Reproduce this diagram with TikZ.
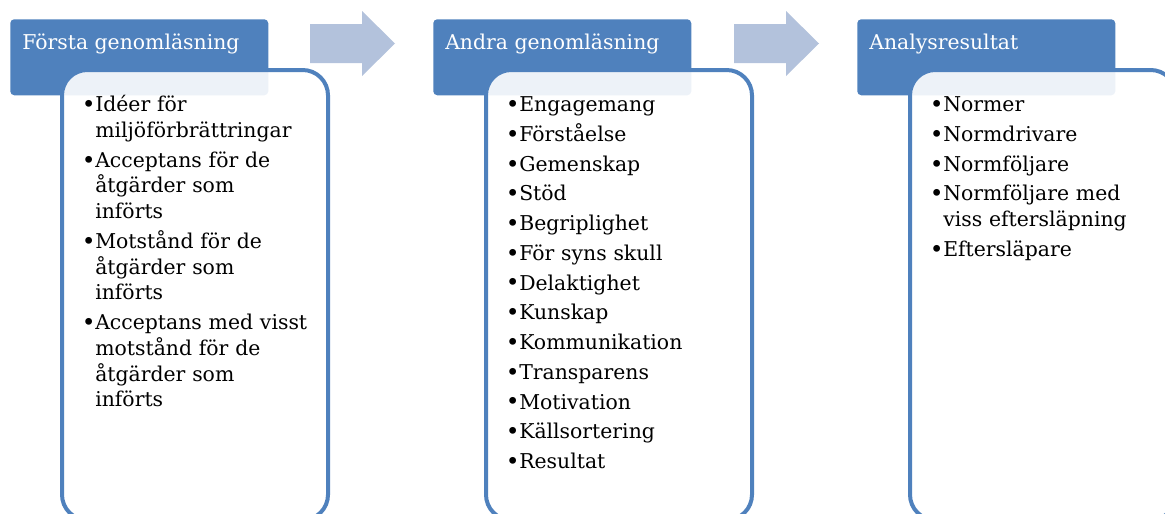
\documentclass[tikz,border=0pt]{standalone}
\usepackage{fontspec}
\setmainfont{DejaVu Serif}
\usepackage{tikz}
\usetikzlibrary{positioning}
\definecolor{headblue}{HTML}{4F81BD}
\definecolor{arrowblue}{HTML}{B3C2DC}
\newcommand{\bigdot}{\raisebox{-0.6pt}{\fontsize{17.5}{19}\selectfont\textbullet}}
\newcommand{\bitem}[1]{\par\hangindent=8.25pt\hangafter=1\noindent\makebox[8.25pt][l]{\hspace{-1.8pt}\bigdot}#1\par\vspace{3pt}}

\begin{document}
\begin{tikzpicture}[
  x=0.75pt, y=-0.75pt,
  head/.style={fill=headblue, rounded corners=3pt, anchor=north west,
    minimum width=193.5pt, minimum height=57pt, inner sep=0pt},
  panel/.style={draw=headblue, line width=3pt, fill=white, fill opacity=0.9,
    rounded corners=19pt, anchor=north west, minimum width=199.5pt,
    minimum height=337.5pt, inner sep=0pt},
  blockarrow/.style={fill=arrowblue},
  headtext/.style={anchor=base west, inner sep=0pt, text=white,
    font=\fontsize{15.3}{19.3}\selectfont},
  itemtext/.style={anchor=base west, inner sep=0pt, text width=175pt,
    align=left, font=\fontsize{15.3}{19.3}\selectfont}
]
\useasboundingbox (0,0) rectangle (1165,514);
\clip (0,0) rectangle (1165,514);

% block arrows between the stages
\fill[blockarrow] (310,24) -- (362,24) -- (362,11) -- (395,43.5)
  -- (362,76) -- (362,63) -- (310,63) -- cycle;
\fill[blockarrow] (734,24) -- (786,24) -- (786,11) -- (819,43.5)
  -- (786,76) -- (786,63) -- (734,63) -- cycle;

% stage 1
\node[head] (h1) at (10,19) {};
\node[panel] (p1) at (60,68) {};
\node[headtext] (t1) at (22,50) {Första genomläsning};
\node[itemtext] (l1) at (84,86) {%
  \bitem{Idéer för\newline miljöförbrättringar}%
  \bitem{Acceptans för de\newline åtgärder som\newline införts}%
  \bitem{Motstånd för de\newline åtgärder som\newline införts}%
  \bitem{Acceptans med visst\newline motstånd för de\newline åtgärder som\newline införts}};

% stage 2
\node[head] (h2) at (433,19) {};
\node[panel] (p2) at (484,68) {};
\node[headtext] (t2) at (445,50) {Andra genomläsning};
\node[itemtext] (l2) at (508,86) {%
  \bitem{Engagemang}\bitem{Förståelse}\bitem{Gemenskap}\bitem{Stöd}%
  \bitem{Begriplighet}\bitem{För syns skull}\bitem{Delaktighet}%
  \bitem{Kunskap}\bitem{Kommunikation}\bitem{Transparens}%
  \bitem{Motivation}\bitem{Källsortering}\bitem{Resultat}};

% stage 3
\node[head] (h3) at (857,19) {};
\node[panel] (p3) at (908,68) {};
\node[headtext] (t3) at (869,50) {Analysresultat};
\node[itemtext] (l3) at (932,86) {%
  \bitem{Normer}\bitem{Normdrivare}\bitem{Normföljare}%
  \bitem{Normföljare med\newline viss eftersläpning}\bitem{Eftersläpare}};
\end{tikzpicture}
\end{document}
